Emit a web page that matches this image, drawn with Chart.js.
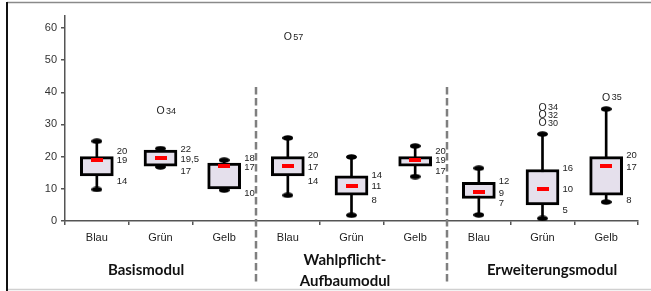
<!DOCTYPE html>
<html>
<head>
<meta charset="utf-8">
<script src="https://cdn.jsdelivr.net/npm/chart.js@4/dist/chart.umd.min.js"></script>
<style>
  html, body { margin: 0; padding: 0; background: #fff; }
  #wrap { width: 651px; height: 291px; position: relative; }
</style>
</head>
<body>
<div id="wrap"><canvas id="chart"></canvas></div>
<script>
// Data
const categories = ["Blau", "Grün", "Gelb", "Blau", "Grün", "Gelb", "Blau", "Grün", "Gelb"];
const groups = [["Basismodul"], ["Wahlpflicht-", "Aufbaumodul"], ["Erweiterungsmodul"]];
const whiskerLow = [9.8, 16.8, 9.6, 8, 1.8, 13.8, 1.9, 0.8, 5.9];
const whiskerHigh = [24.8, 22.5, 18.9, 25.8, 19.9, 23.3, 16.4, 27, 34.8];
const q1 = [14, 17, 10, 14, 8, 17, 7, 5, 8];
const q3 = [20, 22, 18, 20, 14, 20, 12, 16, 20];
const medians = [19, 19.5, 17, 17, 11, 19, 9, 10, 17];
// outliers: [category index, value]
const outliers = [[1, 34], [3, 57], [7, 30], [7, 32], [7, 34], [8, 35]];
const yTicks = [0, 10, 20, 30, 40, 50, 60];

const fmt = (v) => String(v).replace(".", ",");
const FONT = "'Liberation Sans', Arial, sans-serif";

function makeCanvas(w, h, draw) {
  const c = document.createElement("canvas");
  c.width = w;
  c.height = h;
  draw(c.getContext("2d"));
  return c;
}

const capImg = makeCanvas(11, 6, (ctx) => {
  ctx.fillStyle = "#000";
  ctx.beginPath();
  ctx.ellipse(5.5, 3, 5.5, 2.8, 0, 0, Math.PI * 2);
  ctx.fill();
});
const medianImg = makeCanvas(12, 4, (ctx) => {
  ctx.fillStyle = "#ff0000";
  ctx.fillRect(0, 0, 12, 4);
});

const decorations = {
  id: "decorations",
  afterDatasetsDraw(chart) {
    const ctx = chart.ctx;
    const x = chart.scales.x;
    const y = chart.scales.y;
    const half = (x.getPixelForValue(1) - x.getPixelForValue(0)) / 2;
    ctx.save();

    // value labels right of the boxes
    ctx.font = "9.5px " + FONT;
    ctx.fillStyle = "#222";
    ctx.textBaseline = "middle";
    ctx.textAlign = "left";
    categories.forEach((c, i) => {
      const lx = x.getPixelForValue(i) + 20;
      const mid = y.getPixelForValue(medians[i]) + 1;
      let top = y.getPixelForValue(q3[i]) - 1;
      let low = y.getPixelForValue(q1[i]) + 5;
      if (mid - top < 9) top = mid - 9;
      if (low - mid < 9) low = mid + 9;
      ctx.fillText(fmt(q3[i]), lx, top);
      ctx.fillText(fmt(medians[i]), lx, mid);
      ctx.fillText(fmt(q1[i]), lx, low);
    });

    // outliers drawn as "O nn"
    const lastY = {};
    outliers.forEach(([i, v]) => {
      const cx = x.getPixelForValue(i);
      let py = y.getPixelForValue(v);
      py = Math.min(py, y.getPixelForValue(whiskerHigh[i]) - 11);
      if (lastY[i] !== undefined) py = Math.min(py, lastY[i] - 7.7);
      lastY[i] = py;
      ctx.font = "10.5px " + FONT;
      ctx.textAlign = "center";
      ctx.fillText("O", cx, py);
      ctx.font = "9px " + FONT;
      ctx.textAlign = "left";
      ctx.fillText(fmt(v), cx + 5.5, py);
    });

    // dashed group separators
    ctx.strokeStyle = "#7f7f7f";
    ctx.lineWidth = 2.5;
    ctx.setLineDash([7.5, 3.5]);
    [3, 6].forEach((k) => {
      const sx = Math.round(x.getPixelForValue(k) - half);
      ctx.beginPath();
      ctx.moveTo(sx, 87);
      ctx.lineTo(sx, 285);
      ctx.stroke();
    });
    ctx.setLineDash([]);

    // group titles
    ctx.font = "bold 15px Lato, 'Liberation Sans', sans-serif";
    ctx.fillStyle = "#111";
    ctx.textAlign = "center";
    const groupX = [146, 345, 552];
    groups.forEach((lines, g) => {
      if (lines.length === 1) {
        ctx.fillText(lines[0], groupX[g], 270);
      } else {
        ctx.fillText(lines[0], groupX[g], 260);
        ctx.fillText(lines[1], groupX[g], 281);
      }
    });

    // frame
    ctx.strokeStyle = "#8a8a8a";
    ctx.lineWidth = 1.5;
    ctx.beginPath();
    ctx.moveTo(7, 2.5);
    ctx.lineTo(651, 2.5);
    ctx.stroke();
    ctx.strokeStyle = "#d0d0d0";
    ctx.beginPath();
    ctx.moveTo(7, 289.5);
    ctx.lineTo(651, 289.5);
    ctx.stroke();
    ctx.strokeStyle = "#111";
    ctx.lineWidth = 2;
    ctx.beginPath();
    ctx.moveTo(7, 2);
    ctx.lineTo(7, 291);
    ctx.stroke();
    ctx.restore();
  },
};

new Chart(document.getElementById("chart"), {
  type: "bar",
  data: {
    labels: categories,
    datasets: [
      {
        label: "Whisker",
        data: whiskerLow.map((v, i) => [v, whiskerHigh[i]]),
        backgroundColor: "#000",
        barThickness: 2,
        grouped: false,
        order: 4,
      },
      {
        label: "Box",
        data: q1.map((v, i) => [v, q3[i]]),
        backgroundColor: "#e5e0ec",
        borderColor: "#000",
        borderWidth: 3,
        borderSkipped: false,
        barThickness: 33,
        grouped: false,
        order: 3,
      },
      {
        type: "line",
        label: "Min",
        data: whiskerLow,
        showLine: false,
        pointStyle: capImg,
        order: 2,
      },
      {
        type: "line",
        label: "Max",
        data: whiskerHigh,
        showLine: false,
        pointStyle: capImg,
        order: 2,
      },
      {
        type: "line",
        label: "Median",
        data: medians,
        showLine: false,
        pointStyle: medianImg,
        order: 1,
      },
    ],
  },
  options: {
    responsive: true,
    maintainAspectRatio: false,
    animation: false,
    layout: { padding: { left: 0, top: 16, right: 13, bottom: 0 } },
    plugins: {
      legend: { display: false },
      tooltip: { enabled: false },
    },
    scales: {
      x: {
        afterFit: (s) => { s.height = 70; },
        grid: {
          offset: true,
          drawOnChartArea: false,
          tickLength: 4,
          color: "#555",
          lineWidth: 1.5,
        },
        border: { color: "#555", width: 1.5 },
        ticks: {
          padding: 6,
          color: "#222",
          font: { family: FONT, size: 11 },
        },
      },
      y: {
        min: 0,
        max: 63.7,
        afterFit: (s) => { s.width = 65; },
        afterBuildTicks: (s) => { s.ticks = yTicks.map((v) => ({ value: v })); },
        grid: {
          drawOnChartArea: false,
          tickLength: 4,
          color: "#555",
          lineWidth: 1.5,
        },
        border: { color: "#555", width: 1.5 },
        ticks: {
          padding: 4,
          color: "#333",
          font: { family: FONT, size: 11 },
        },
      },
    },
  },
  plugins: [decorations],
});
</script>
</body>
</html>
